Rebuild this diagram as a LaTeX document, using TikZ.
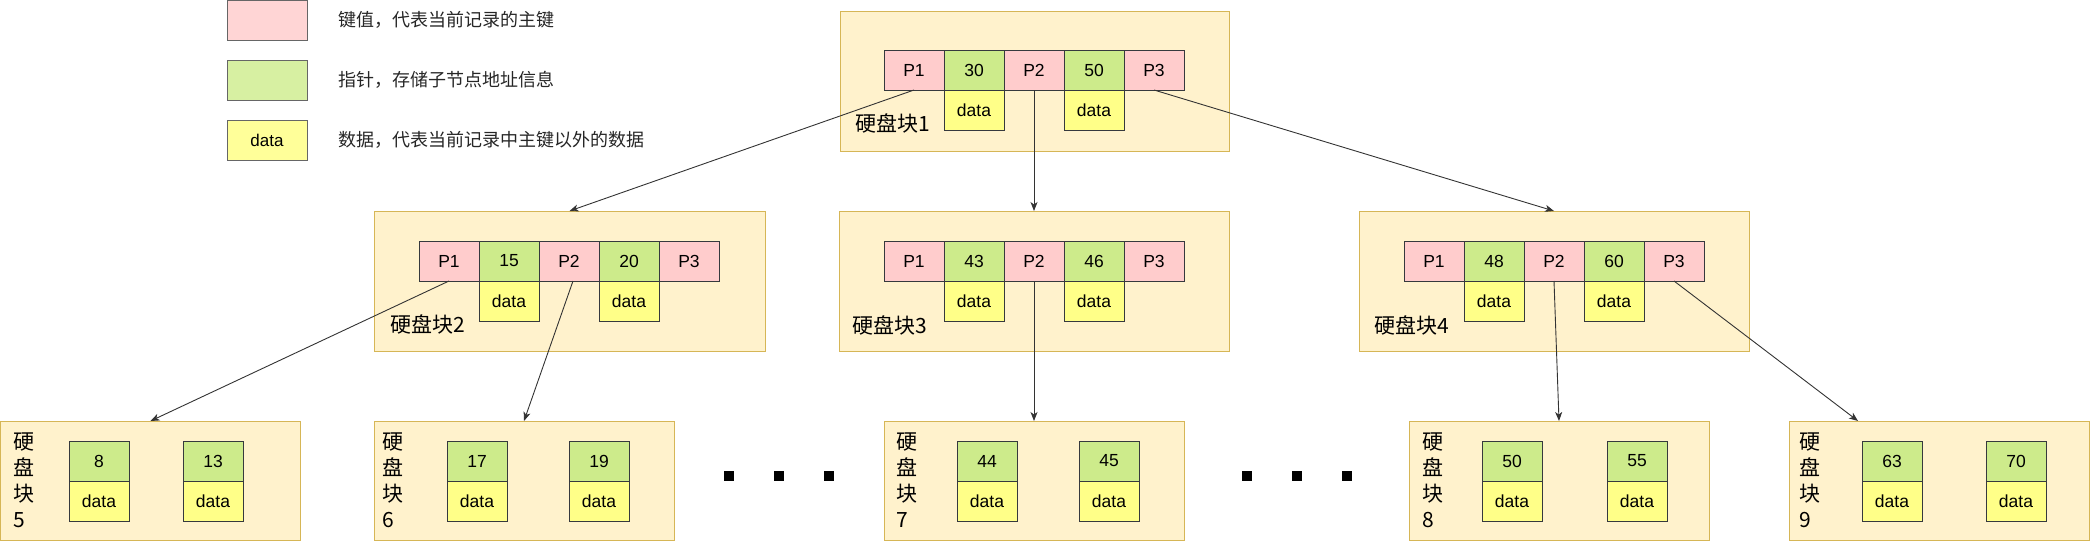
\documentclass[tikz,border=0pt]{standalone}
\usepackage{fontspec}
\setmainfont{Liberation Sans}
\newfontfamily\cjk{Noto Sans CJK SC}
\usetikzlibrary{arrows.meta}
\definecolor{blkfill}{HTML}{FFF2CC}
\definecolor{blkline}{HTML}{D6B656}
\definecolor{pkfill}{HTML}{FFCCCC}
\definecolor{gnfill}{HTML}{CDEB8B}
\definecolor{ylfill}{HTML}{FFFF88}
\definecolor{cellline}{HTML}{36393D}
\definecolor{lgpkfill}{HTML}{FFD5D5}
\definecolor{lggnfill}{HTML}{D7F0A2}
\definecolor{lgylfill}{HTML}{FFFF99}
\definecolor{lgline}{HTML}{666666}
\definecolor{arrline}{HTML}{333333}
\tikzset{
  blk/.style={draw=blkline, fill=blkfill, line width=1pt, inner sep=0pt, outer sep=0pt, anchor=north west},
  cell/.style={draw=cellline, line width=1pt, minimum width=60pt, minimum height=40pt, inner sep=0pt, outer sep=0pt, font=\fontsize{17.5}{20}\selectfont},
  pk/.style={cell, fill=pkfill},
  gn/.style={cell, fill=gnfill},
  yl/.style={cell, fill=ylfill},
  lgbox/.style={draw=lgline, line width=1pt, minimum width=80pt, minimum height=40pt, inner sep=0pt, outer sep=0pt, anchor=north west, font=\fontsize{17}{20}\selectfont},
  lgtext/.style={anchor=west, inner sep=0pt, font=\cjk\fontsize{18}{20}\selectfont, text=black!85},
  lbl/.style={anchor=west, inner sep=0pt, font=\cjk\fontsize{21}{26}\selectfont},
  vlbl/.style={anchor=west, inner sep=0pt, align=left, font=\cjk\fontsize{21}{26}\selectfont},
  arr/.style={draw=arrline, line width=0.9pt, -{Stealth[length=9pt,width=7pt,inset=2.5pt]}},
  sq/.style={fill=black, minimum size=10pt, inner sep=0pt, outer sep=0pt}
}
\newcommand{\mkinner}[5]{%
  \node[pk, anchor=north west] (#1p1) at (#2,#3) {P1};
  \node[gn, anchor=north west] (#1k1) at (#1p1.north east) {#4};
  \node[pk, anchor=north west] (#1p2) at (#1k1.north east) {P2};
  \node[gn, anchor=north west] (#1k2) at (#1p2.north east) {#5};
  \node[pk, anchor=north west] (#1p3) at (#1k2.north east) {P3};
  \node[yl, anchor=north] (#1d1) at (#1k1.south) {data};
  \node[yl, anchor=north] (#1d2) at (#1k2.south) {data};
}
\newcommand{\mkleafcell}[4]{%
  \node[gn, anchor=north west] (#1k) at (#2,#3) {#4};
  \node[yl, anchor=north] (#1d) at (#1k.south) {data};
}
\begin{document}
\begin{tikzpicture}[x=1pt,y=-1pt]
\useasboundingbox (0,0) rectangle (2090,541);
% legend
\node[lgbox, fill=lgpkfill] (lg1) at (227,0.5) {};
\node[lgbox, fill=lggnfill] (lg2) at (227,60) {};
\node[lgbox, fill=lgylfill] (lg3) at (227,120) {data};
\node[lgtext] (lt1) at (338,20) {键值，代表当前记录的主键};
\node[lgtext] (lt2) at (338,80) {指针，存储子节点地址信息};
\node[lgtext] (lt3) at (338,140) {数据，代表当前记录中主键以外的数据};
% inner blocks
\node[blk, minimum width=389pt, minimum height=140pt] (b1) at (840,11) {};
\node[blk, minimum width=391pt, minimum height=140pt] (b2) at (374,211) {};
\node[blk, minimum width=390pt, minimum height=140pt] (b3) at (839,211) {};
\node[blk, minimum width=390pt, minimum height=140pt] (b4) at (1359,211) {};
\mkinner{r}{884}{50}{30}{50}
\mkinner{a}{419}{241}{15}{20}
\mkinner{c}{884}{241}{43}{46}
\mkinner{e}{1404}{241}{48}{60}
\node[lbl] (l1) at (855,123) {硬盘块1};
\node[lbl] (l2) at (390,324) {硬盘块2};
\node[lbl] (l3) at (852,325) {硬盘块3};
\node[lbl] (l4) at (1374,325) {硬盘块4};
% leaf blocks
\node[blk, minimum width=300pt, minimum height=119pt] (b5) at (0.5,421) {};
\node[blk, minimum width=300pt, minimum height=119pt] (b6) at (374,421) {};
\node[blk, minimum width=300pt, minimum height=119pt] (b7) at (884,421) {};
\node[blk, minimum width=300pt, minimum height=119pt] (b8) at (1409,421) {};
\node[blk, minimum width=300pt, minimum height=119pt] (b9) at (1789,421) {};
\mkleafcell{f1}{69}{441}{8}
\mkleafcell{f2}{183}{441}{13}
\mkleafcell{g1}{447}{441}{17}
\mkleafcell{g2}{569}{441}{19}
\mkleafcell{h1}{957}{441}{44}
\mkleafcell{h2}{1079}{441}{45}
\mkleafcell{i1}{1482}{441}{50}
\mkleafcell{i2}{1607}{441}{55}
\mkleafcell{j1}{1862}{441}{63}
\mkleafcell{j2}{1986}{441}{70}
\node[vlbl] (l5) at (13,480) {硬\\盘\\块\\5};
\node[vlbl] (l6) at (382,480) {硬\\盘\\块\\6};
\node[vlbl] (l7) at (896,480) {硬\\盘\\块\\7};
\node[vlbl] (l8) at (1422,480) {硬\\盘\\块\\8};
\node[vlbl] (l9) at (1799,480) {硬\\盘\\块\\9};
% dots
\node[sq] (s1) at (729,476) {};
\node[sq] (s2) at (779,476) {};
\node[sq] (s3) at (829,476) {};
\node[sq] (s4) at (1247,476) {};
\node[sq] (s5) at (1297,476) {};
\node[sq] (s6) at (1347,476) {};
% arrows
\draw[arr] (rp1.south) -- (b2.north);
\draw[arr] (rp2.south) -- (b3.north);
\draw[arr] (rp3.south) -- (b4.north);
\draw[arr] (ap1.south) -- (b5.north);
\draw[arr] ([xshift=4pt]ap2.south) -- (b6.north);
\draw[arr] (cp2.south) -- (b7.north);
\draw[arr] (ep2.south) -- (b8.north);
\coordinate (e9) at (1858,421);
\draw[arr] (ep3.south) -- (e9);
\end{tikzpicture}
\end{document}
